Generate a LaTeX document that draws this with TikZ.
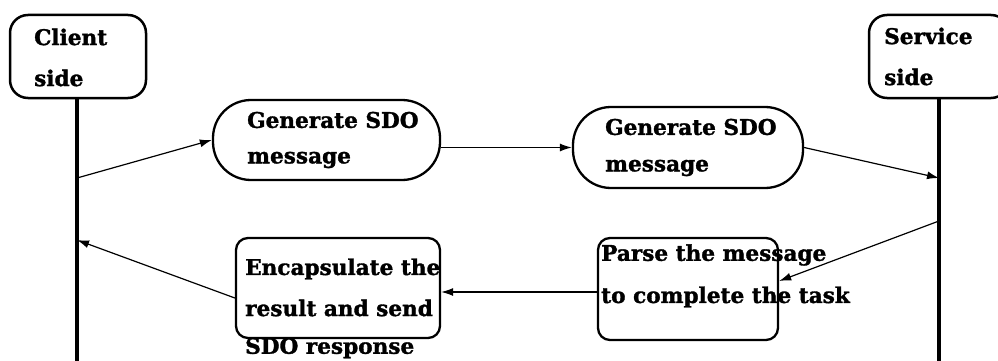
\documentclass[tikz,border=0pt]{standalone}
\usepackage{fontspec}
\setmainfont{DejaVu Serif}[BoldFeatures={FakeBold=1.5}]
\usetikzlibrary{arrows.meta,calc}
\begin{document}
\begin{tikzpicture}[x=1pt,y=1pt,
  actor/.style={draw, line width=2.5pt, rounded corners=18pt, inner sep=0pt},
  stadium/.style={draw, line width=2.3pt, rounded corners=38pt, inner sep=0pt},
  task/.style={draw, line width=2.3pt, rounded corners=12pt, inner sep=0pt},
  label/.style={anchor=west, inner sep=0pt, font=\fontsize{21.6}{21.6}\selectfont\bfseries},
  life/.style={line width=3.2pt},
  msg/.style={line width=1.2pt, -{Latex[length=12pt,width=8pt]}}]
\useasboundingbox (0,0) rectangle (998,-361);

% participants
\node[actor, minimum width=136pt, minimum height=83pt] (client) at (78,-56.5) {};
\node[label] (clientA) at (34,-37) {Client};
\node[label] (clientB) at (34,-78) {side};
\node[actor, minimum width=140pt, minimum height=83pt] (service) at (939,-56.5) {};
\node[label] (serviceA) at (884,-36) {Service};
\node[label] (serviceB) at (884,-77) {side};

% lifelines
\coordinate (cbot) at (77,-365);
\coordinate (sbot) at (939,-365);
\draw[life] (client.south -| cbot) -- (cbot);
\draw[life] (service.south -| sbot) -- (sbot);

% request path
\node[stadium, minimum width=227pt, minimum height=80pt] (gen1) at (326.5,-140) {};
\node[label] (gen1A) at (247,-120) {Generate SDO};
\node[label] (gen1B) at (247,-160) {message};
\node[stadium, minimum width=230pt, minimum height=81pt] (gen2) at (688,-147.5) {};
\node[label] (gen2A) at (605,-127) {Generate SDO};
\node[label] (gen2B) at (605,-168) {message};

% response path
\node[task, minimum width=180pt, minimum height=102pt] (parse) at (688,-289) {};
\node[label] (parseA) at (601,-255) {Parse the message};
\node[label] (parseB) at (601,-297) {to complete the task};
\node[task, minimum width=204pt, minimum height=100pt] (encap) at (338,-288) {};
\node[label] (encapA) at (245,-269) {Encapsulate the};
\node[label] (encapB) at (245,-308) {result and send};
\node[label] (encapC) at (245,-348) {SDO response};

% messages
\coordinate (c1) at (77,-178);
\coordinate (s1) at (939,-178);
\coordinate (s2) at (939,-221);
\coordinate (c2) at (77,-240);
\draw[msg] (c1) -- (gen1.west);
\draw[msg] (gen1.east |- gen2.west) -- (gen2.west);
\draw[msg] (gen2.east) -- (s1);
\draw[msg] (s2) -- ($(parse.east)+(0,8)$);
\draw[msg] (parse.west |- 0,-292) -- (encap.east |- 0,-292);
\draw[msg] ($(encap.west)+(0,-10)$) -- (c2);
\end{tikzpicture}
\end{document}
